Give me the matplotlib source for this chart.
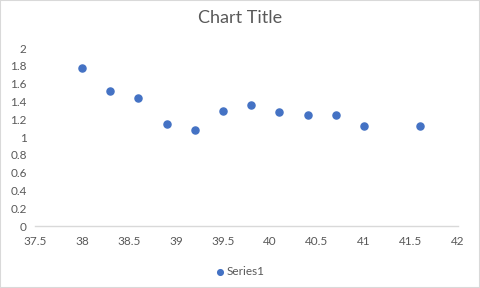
import matplotlib.pyplot as plt
from matplotlib.patches import Rectangle
from matplotlib.ticker import FuncFormatter

# data
x_vals = [38.0, 38.3, 38.6, 38.9, 39.2, 39.5, 39.8, 40.1, 40.4, 40.7, 41.0, 41.6]
y_vals = [1.78, 1.52, 1.44, 1.15, 1.075, 1.295, 1.355, 1.285, 1.25, 1.25, 1.13, 1.13]
x_ticks = [37.5, 38, 38.5, 39, 39.5, 40, 40.5, 41, 41.5, 42]
y_ticks = [0, 0.2, 0.4, 0.6, 0.8, 1, 1.2, 1.4, 1.6, 1.8, 2]

BLUE = '#4472C4'
GREY_TXT = '#595959'

plt.rcParams['font.family'] = ['Lato', 'DejaVu Sans']

fig = plt.figure(figsize=(4.8, 2.88), dpi=100)
ax = fig.add_axes([0.073, 0.215, 0.881, 0.618])

ax.scatter(x_vals, y_vals, s=26, color=BLUE, zorder=3, label='Series1')

ax.set_xlim(37.5, 42)
ax.set_ylim(0, 2)
ax.set_xticks(x_ticks)
ax.set_yticks(y_ticks)
fmt = FuncFormatter(lambda v, p: f'{v:g}')
ax.xaxis.set_major_formatter(fmt)
ax.yaxis.set_major_formatter(fmt)
ax.tick_params(length=0, labelsize=8.5, labelcolor=GREY_TXT)
ax.tick_params(axis='x', pad=7)
ax.tick_params(axis='y', pad=6)

for side in ['top', 'right', 'left']:
    ax.spines[side].set_visible(False)
ax.spines['bottom'].set_color('#D9D9D9')
ax.spines['bottom'].set_linewidth(1)

fig.suptitle('Chart Title', y=0.965, fontsize=13, color=GREY_TXT)

fig.legend(loc='lower center', bbox_to_anchor=(0.5, 0.0), frameon=False,
           fontsize=8.5, labelcolor=GREY_TXT, handletextpad=0.1,
           handlelength=0.8, markerscale=0.8)

# chart border like Excel
fig.patches.append(Rectangle((0, 0), 1, 1, transform=fig.transFigure,
                             fill=False, edgecolor='#D9D9D9', linewidth=1.5))

fig.savefig('out.png', dpi=100)
